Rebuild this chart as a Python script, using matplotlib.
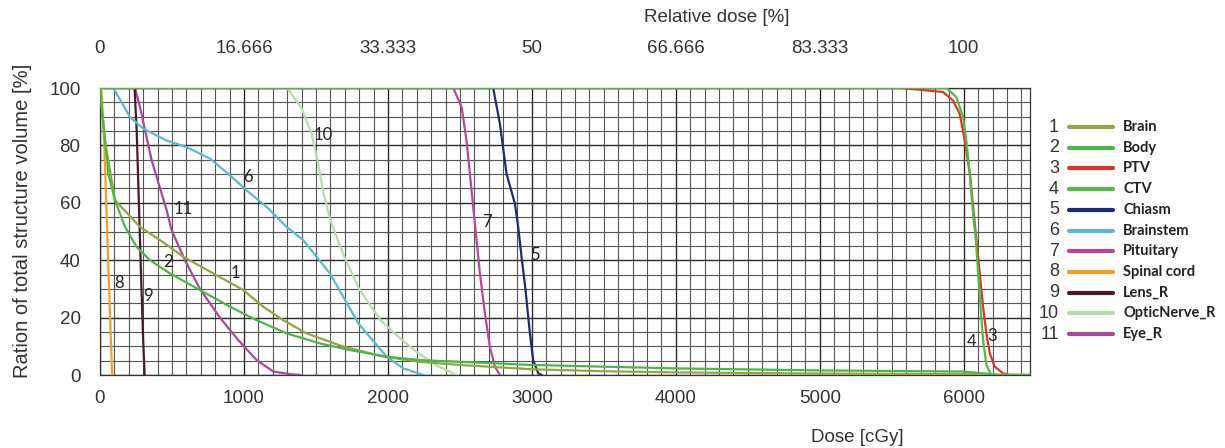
import numpy as np
import matplotlib.pyplot as plt
from matplotlib.lines import Line2D
from matplotlib.ticker import MultipleLocator

plt.rcParams['font.family'] = ['Liberation Sans', 'DejaVu Sans']

# structures (legend order)
names = ['Brain', 'Body', 'PTV', 'CTV', 'Chiasm', 'Brainstem', 'Pituitary',
         'Spinal cord', 'Lens_R', 'OpticNerve_R', 'Eye_R']
colors = ['#95a444', '#4cb648', '#d8382a', '#55b947', '#1f2a78', '#5cb9d6',
          '#b8479b', '#f0a030', '#4a1a24', '#b5dcaa', '#a9479c']

# DVH curves: dose [cGy], volume [%]
brain_dose = [0, 35, 104, 278, 417, 579, 787, 995, 1134, 1273, 1435, 1690, 1968, 2222,
              2500, 3000, 3500, 4000, 5000, 6000, 6200, 6460]
brain_vol = [100, 81.7, 60.9, 51.6, 47, 41.2, 35.4, 29.6, 23.8, 19.1, 14.5, 9.9, 6.4, 4.6,
             3.5, 2, 1.3, 0.9, 0.5, 0.3, 0.1, 0]
body_dose = [0, 12, 58, 104, 174, 255, 347, 486, 694, 903, 1088, 1296, 1528, 1736, 1991,
             2222, 3000, 4000, 5000, 6000, 6150, 6250, 6460]
body_vol = [100, 93.3, 70.1, 60.9, 51.6, 44.6, 40, 35.4, 29.6, 23.8, 19.1, 14.5, 11, 8.7,
            6.4, 5.2, 3.5, 2.3, 1.6, 1.2, 0.5, 0, 0]
ptv_dose = [0, 5556, 5694, 5856, 5926, 5972, 6007, 6042, 6065, 6088, 6111, 6134, 6157,
            6181, 6215, 6273, 6319, 6460]
ptv_vol = [100, 100, 99.4, 98.6, 95.6, 91, 81.7, 70.1, 58.6, 47, 35.4, 23.8, 14.5,
           7.5, 2.9, 0.6, 0, 0]
ctv_dose = [0, 5880, 5949, 5995, 6018, 6042, 6065, 6084, 6100, 6116, 6134, 6157, 6192, 6460]
ctv_vol = [100, 100, 96.8, 89.9, 81.7, 70.1, 56.2, 47, 35.4, 23.8, 12.2, 3.5, 0, 0]
chiasm_dose = [2731, 2778, 2824, 2882, 2905, 2928, 2956, 2986, 3009, 3044, 3067]
chiasm_vol = [100, 87.5, 70.1, 59.7, 51.6, 41.2, 29.6, 14.5, 5.2, 0.6, 0]
brainstem_dose = [93, 208, 301, 463, 602, 764, 891, 1019, 1157, 1296, 1412, 1597, 1690,
                  1794, 1991, 2106, 2250]
brainstem_vol = [100, 89.9, 85.8, 81.7, 79.4, 75.4, 70.1, 64.3, 58.6, 51.6, 47, 35.4,
                 27.2, 18, 6.4, 2.3, 0]
pituitary_dose = [2454, 2512, 2546, 2581, 2604, 2639, 2674, 2708, 2743, 2778]
pituitary_vol = [100, 93.3, 81.7, 64.3, 52.8, 35.4, 21.4, 9.9, 2.9, 0]
spinal_dose = [10, 30, 50, 70, 85]
spinal_vol = [100, 80, 50, 20, 0]
lens_dose = [240, 255, 270, 285, 300, 310]
lens_vol = [100, 85, 60, 35, 12, 0]
optic_dose = [1300, 1400, 1470, 1510, 1550, 1600, 1690, 1800, 1950, 2080, 2200, 2350, 2480]
optic_vol = [100, 93, 84, 75, 64, 54, 42, 30, 19, 13, 8, 3, 0]
eye_dose = [243, 278, 359, 463, 498, 590, 694, 833, 960, 1088, 1204, 1319, 1390]
eye_vol = [100, 93.3, 74.8, 57.4, 50.4, 40, 30, 20, 12.2, 5.2, 1.2, 0.3, 0]

doses = [brain_dose, body_dose, ptv_dose, ctv_dose, chiasm_dose, brainstem_dose,
         pituitary_dose, spinal_dose, lens_dose, optic_dose, eye_dose]
vols = [brain_vol, body_vol, ptv_vol, ctv_vol, chiasm_vol, brainstem_vol,
        pituitary_vol, spinal_vol, lens_vol, optic_vol, eye_vol]

# number labels on the curves: (dose, volume)
label_pos = [(938, 35.5), (474, 39.3), (6200, 13.6), (6055, 11.5), (3020, 41.7),
             (1030, 68.9), (2685, 53.2), (135, 32), (336, 27.5), (1550, 83.5), (579, 57.7)]

top_ticks = [0, 1000, 2000, 3000, 4000, 5000, 6000]
top_labels = ['0', '16.666', '33.333', '50', '66.666', '83.333', '100']

fig = plt.figure(figsize=(12.25, 4.48), dpi=100)
ax = fig.add_axes([100/1225, 1-375/448, 930/1225, 287/448])

# grid
ax.xaxis.set_major_locator(MultipleLocator(1000))
ax.xaxis.set_minor_locator(MultipleLocator(100))
ax.yaxis.set_major_locator(MultipleLocator(20))
ax.yaxis.set_minor_locator(MultipleLocator(5))
ax.grid(which='major', color='#2a2a2a', lw=1.0)
ax.grid(which='minor', color='#555555', lw=0.8)
ax.set_axisbelow(True)

# draw in reverse so body/brain come on top at the start
order = [9, 10, 8, 7, 6, 4, 5, 2, 3, 0, 1]
for i in order:
    ax.plot(doses[i], vols[i], color=colors[i], lw=1.6, zorder=3)
for i, (xd, yv) in enumerate(label_pos):
    ax.text(xd, yv, str(i + 1), fontsize=12, family=['Lato', 'DejaVu Sans'],
            color='#222222', ha='center', va='center', zorder=4)

ax.set_xlim(0, 6460)
ax.set_ylim(0, 100)
ax.tick_params(which='both', length=0, labelsize=13.5, labelcolor='#333333')
ax.tick_params(axis='x', pad=11)
ax.tick_params(axis='y', pad=14)
for s in ax.spines.values():
    s.set_color('#333333')
    s.set_linewidth(0.9)

ax2 = ax.twiny()
ax2.set_xlim(ax.get_xlim())
ax2.set_xticks(top_ticks)
ax2.set_xticklabels(top_labels)
ax2.tick_params(length=0, labelsize=13.5, labelcolor='#333333', pad=22)
for s in ax2.spines.values():
    s.set_visible(False)

fig.text(717/1225, 1-18/448, 'Relative dose [%]', fontsize=13.5, color='#333333',
         ha='center', va='center')
fig.text(857/1225, 1-437/448, 'Dose [cGy]', fontsize=13.5, color='#333333',
         ha='center', va='center')
fig.text(23/1225, 1-221/448, 'Ration of total structure volume [%]', fontsize=14.5,
         color='#333333', ha='center', va='center', rotation=90)

# legend drawn at the right
for i, name in enumerate(names):
    yy = 1 - (127 + i * 20.7) / 448
    fig.text(1059/1225, yy, str(i + 1), fontsize=13, color='#333333',
             ha='right', va='center')
    fig.add_artist(Line2D([1069/1225, 1113/1225], [yy, yy], color=colors[i], lw=3,
                          solid_capstyle='round'))
    fig.text(1123/1225, yy, name, fontsize=10.5, color='#222222', ha='left',
             va='center', family=['Lato', 'DejaVu Sans'], fontweight='bold')

fig.savefig('out.png', dpi=100)
